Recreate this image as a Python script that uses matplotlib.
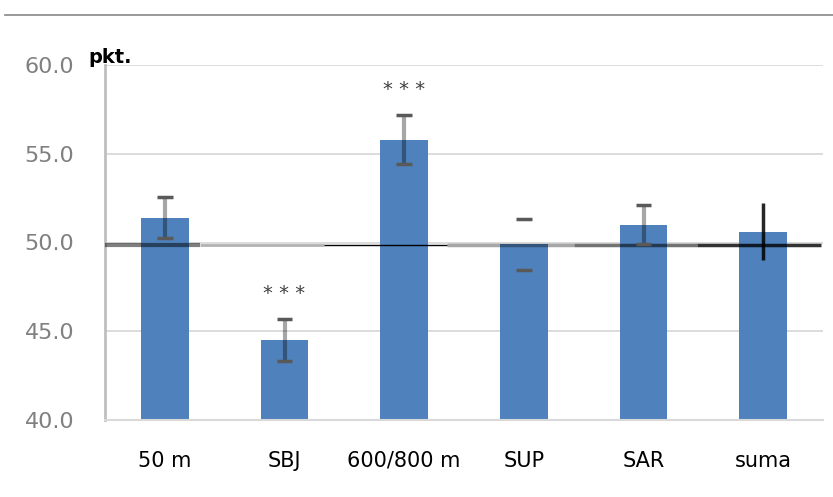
import numpy as np
import matplotlib.pyplot as plt
from matplotlib.lines import Line2D

categories = ['50 m', 'SBJ', '600/800 m', 'SUP', 'SAR', 'suma']
values = [51.4, 44.5, 55.8, 49.9, 51.0, 50.6]
errors = [1.15, 1.2, 1.4, 1.45, 1.1, 1.6]
stars = ['', '***', '***', '', '', '']
yticks = [40.0, 45.0, 50.0, 55.0, 60.0]
ref_level = 49.85

fig = plt.figure(figsize=(8.33, 4.97), dpi=100)
ax = fig.add_axes([105 / 833, 77 / 497, 718 / 833, 355 / 497])

x = np.arange(len(categories))
ax.bar(x, values, width=0.4, color='#4f81bd', zorder=2)

# reference line at 50, drawn in pieces like the original
segs = [(-0.5, 0.29, 0.5, 3), (0.29, 1.33, 0.3, 2), (1.33, 2.36, 1.0, 1),
        (2.36, 3.42, 0.35, 2.5), (3.42, 4.45, 0.55, 2.5), (4.45, 5.48, 0.8, 2.5)]
for x0, x1, a, lw in segs:
    ax.plot([x0, x1], [ref_level, ref_level], color='black', alpha=a, lw=lw,
            zorder=3, solid_capstyle='butt')

# error bars
for i, (v, e) in enumerate(zip(values, errors)):
    if categories[i] == 'suma':
        ax.plot([i, i], [v - e, v + e], color='black', lw=2.5, alpha=0.85,
                zorder=4, solid_capstyle='butt')
        continue
    if categories[i] != 'SUP':
        ax.plot([i, i], [v - e, v + e], color='black', alpha=0.35, lw=3,
                zorder=4, solid_capstyle='butt')
    for yy in (v - e, v + e):
        ax.plot([i - 0.065, i + 0.065], [yy, yy], color='#595959', lw=2.5,
                zorder=4, solid_capstyle='butt')
    if stars[i]:
        ax.text(i, v + e + 1.4, '* * *', ha='center', va='center',
                fontsize=14, color='#404040')

ax.set_xlim(-0.5, 5.5)
ax.set_ylim(40, 60)
ax.set_yticks(yticks)
ax.set_yticklabels(['%.1f' % t for t in yticks], color='#808080', fontsize=16)
ax.set_xticks(x)
ax.set_xticklabels(categories, fontsize=15, color='black')
ax.tick_params(axis='y', length=0, pad=22)
ax.tick_params(axis='x', length=0, pad=22)

ax.yaxis.grid(True, color='#d9d9d9', lw=1.3, zorder=0)
ax.set_axisbelow(True)
for s in ['top', 'right']:
    ax.spines[s].set_visible(False)
ax.spines['left'].set_color('#bfbfbf')
ax.spines['left'].set_linewidth(2)
ax.spines['bottom'].set_color('#d9d9d9')
ax.spines['bottom'].set_linewidth(1.5)

fig.text(88 / 833, 1 - 63 / 497, 'pkt.', fontsize=14, fontweight='bold',
         color='black', va='baseline')
fig.add_artist(Line2D([5 / 833, 1], [1 - 15 / 497, 1 - 15 / 497],
                      color='#888888', lw=1.2, transform=fig.transFigure))

plt.savefig('out.png', dpi=100)
